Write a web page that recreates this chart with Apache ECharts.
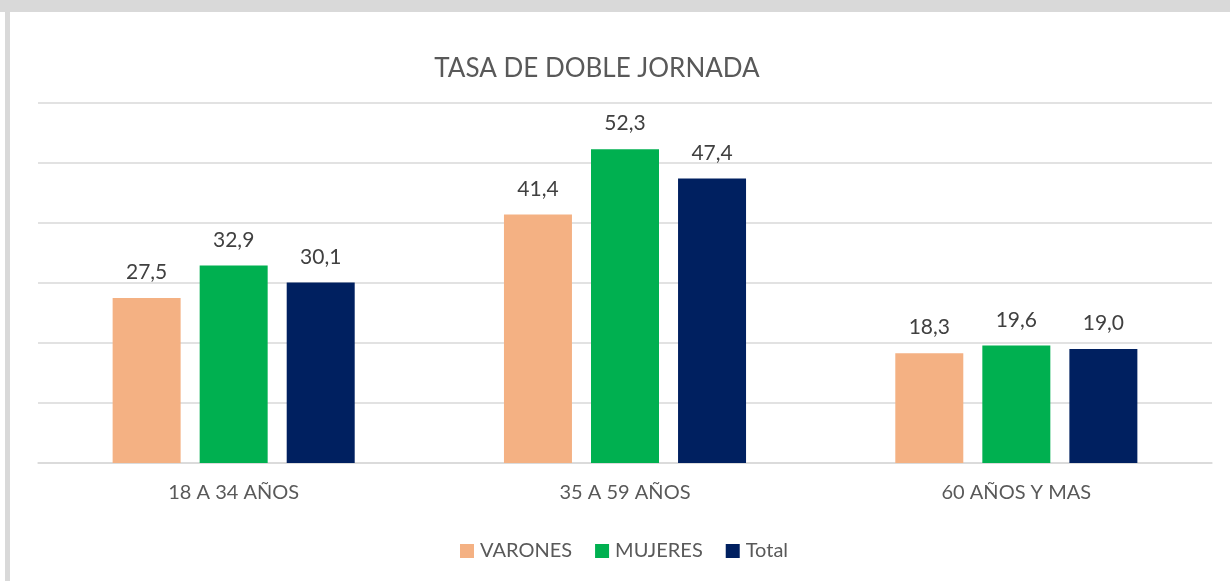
<!DOCTYPE html>
<html><head><meta charset="utf-8">
<script src="https://cdn.jsdelivr.net/npm/echarts@6/dist/echarts.min.js"></script>
<style>
html,body{margin:0;padding:0;background:#fff;}
#wrap{position:relative;width:1230px;height:581px;overflow:hidden;background:#fff;}
#topband{position:absolute;left:0;top:0;width:1230px;height:12px;background:#d9d9d9;}
#leftband{position:absolute;left:5px;top:0;width:5px;height:581px;background:#d9d9d9;}
#chart{position:absolute;left:0;top:0;width:1230px;height:581px;}
</style></head>
<body><div id="wrap"><div id="topband"></div><div id="leftband"></div><div id="chart"></div></div>
<script>
const categories = ['18 A 34 AÑOS', '35 A 59 AÑOS', '60 AÑOS Y MAS'];
const varones = [27.5, 41.4, 18.3];
const mujeres = [32.9, 52.3, 19.6];
const total = [30.1, 47.4, 19.0];
const seriesNames = ['VARONES', 'MUJERES', 'Total'];
const colors = ['#F4B183', '#00B050', '#002060'];
const FONT = 'Lato, "Open Sans", sans-serif';

const chart = echarts.init(document.getElementById('chart'), null, {renderer: 'canvas'});
const lbl = {show: true, position: 'top', distance: 15, color: '#404040', fontSize: 21, fontFamily: FONT,
  formatter: p => p.value.toFixed(1).replace('.', ',')};
const mk = (name, data, color) => ({
  name, type: 'bar', data, barWidth: 68, barGap: '28%',
  itemStyle: {color}, label: lbl, emphasis: {disabled: true}
});
chart.setOption({
  animation: false,
  title: {text: 'TASA DE DOBLE JORNADA', left: 592, top: 51, textAlign: 'center',
    textStyle: {color: '#595959', fontSize: 26, fontWeight: 'normal', fontFamily: FONT}},
  legend: {data: seriesNames, left: 455, top: 536, itemWidth: 14, itemHeight: 14, itemGap: 23,
    icon: 'rect', textStyle: {color: '#595959', fontSize: 20, fontFamily: FONT, padding: [0, 0, 0, 1]}},
  grid: {left: 38, right: 18, top: 103, bottom: 118},
  xAxis: {type: 'category', data: categories,
    axisLine: {lineStyle: {color: '#d9d9d9', width: 1.5}}, axisTick: {show: false},
    axisLabel: {color: '#595959', fontSize: 20, fontFamily: FONT, margin: 20}},
  yAxis: {type: 'value', min: 0, max: 60, interval: 10,
    axisLabel: {show: false}, axisLine: {show: false}, axisTick: {show: false},
    splitLine: {lineStyle: {color: '#d9d9d9', width: 1.5}}},
  series: [mk(seriesNames[0], varones, colors[0]), mk(seriesNames[1], mujeres, colors[1]), mk(seriesNames[2], total, colors[2])]
});
</script></body></html>
